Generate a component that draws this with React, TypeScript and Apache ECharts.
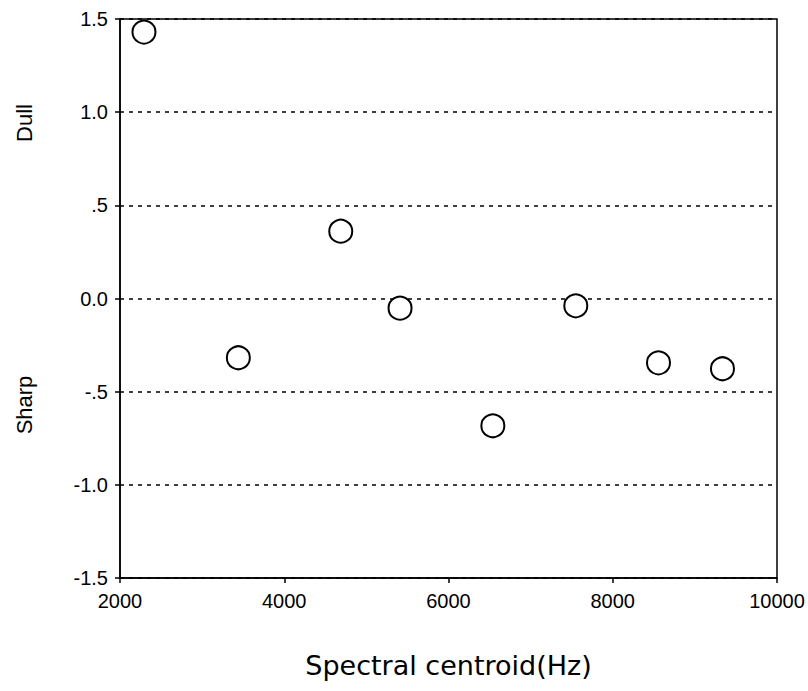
import React, { useEffect, useRef } from "react";
import * as echarts from "echarts";

const centroidHz = [2292, 3441, 4688, 5410, 6540, 7550, 8557, 9336];
const scores = [1.43, -0.318, 0.361, -0.052, -0.683, -0.039, -0.345, -0.377];
const yTickValues = [-1.5, -1.0, -0.5, 0, 0.5, 1.0, 1.5];
const yTickLabels = ["-1.5", "-1.0", "-.5", "0.0", ".5", "1.0", "1.5"];
const xTickLabels = ["2000", "4000", "6000", "8000", "10000"];
const xTitle = "Spectral centroid(Hz)";
const upperLabel = "Dull";
const lowerLabel = "Sharp";

const FONT = "Liberation Sans";
const TITLE_FONT = "DejaVu Sans";

export default function App() {
  const ref = useRef<HTMLDivElement>(null);
  useEffect(() => {
    if (!ref.current) return;
    const chart = echarts.init(ref.current, null, { renderer: "svg" });
    const data = centroidHz.map((x, i) => [x, scores[i]]);
    chart.setOption({
      animation: false,
      backgroundColor: "#fff",
      textStyle: { fontFamily: FONT },
      grid: {
        left: 120,
        top: 19,
        right: 31,
        bottom: 113,
        show: true,
        borderColor: "#000",
        borderWidth: 1.5,
      },
      xAxis: {
        type: "value",
        min: 2000,
        max: 10000,
        interval: 2000,
        name: xTitle,
        nameLocation: "middle",
        nameGap: 74,
        nameTextStyle: { fontSize: 27, color: "#000", fontFamily: TITLE_FONT },
        axisLine: { show: true, onZero: false, lineStyle: { color: "#000", width: 1.5 } },
        axisTick: { show: true, length: 5, lineStyle: { color: "#000", width: 1.5 } },
        axisLabel: {
          fontSize: 20,
          color: "#000",
          margin: 13,
          fontFamily: FONT,
          formatter: (v: number) => xTickLabels[Math.round((v - 2000) / 2000)] ?? String(v),
        },
        splitLine: { show: false },
      },
      yAxis: {
        type: "value",
        min: -1.5,
        max: 1.5,
        interval: 0.5,
        axisLine: { show: true, onZero: false, lineStyle: { color: "#000", width: 1.5 } },
        axisTick: { show: true, length: 5, lineStyle: { color: "#000", width: 1.5 } },
        axisLabel: {
          fontSize: 20,
          color: "#000",
          margin: 12,
          fontFamily: FONT,
          formatter: (v: number) => {
            const idx = yTickValues.findIndex((t) => Math.abs(t - v) < 1e-6);
            return idx >= 0 ? yTickLabels[idx] : String(v);
          },
        },
        splitLine: {
          show: true,
          lineStyle: { color: "#000", type: [4, 5], width: 1.5 },
        },
      },
      graphic: [
        {
          type: "text",
          x: 24,
          y: 123,
          rotation: Math.PI / 2,
          style: {
            text: upperLabel,
            fontSize: 22,
            fontFamily: FONT,
            fill: "#000",
            align: "center",
            verticalAlign: "middle",
          },
        },
        {
          type: "text",
          x: 24,
          y: 405,
          rotation: Math.PI / 2,
          style: {
            text: lowerLabel,
            fontSize: 22,
            fontFamily: FONT,
            fill: "#000",
            align: "center",
            verticalAlign: "middle",
          },
        },
      ],
      series: [
        {
          type: "scatter",
          data,
          symbol: "circle",
          symbolSize: 23,
          itemStyle: { color: "#fff", borderColor: "#000", borderWidth: 2, opacity: 1 },
          z: 5,
        },
      ],
    });
    return () => chart.dispose();
  }, []);
  return (
    <div
      ref={ref}
      style={{ position: "fixed", left: 0, top: 0, width: 808, height: 691 }}
    />
  );
}
